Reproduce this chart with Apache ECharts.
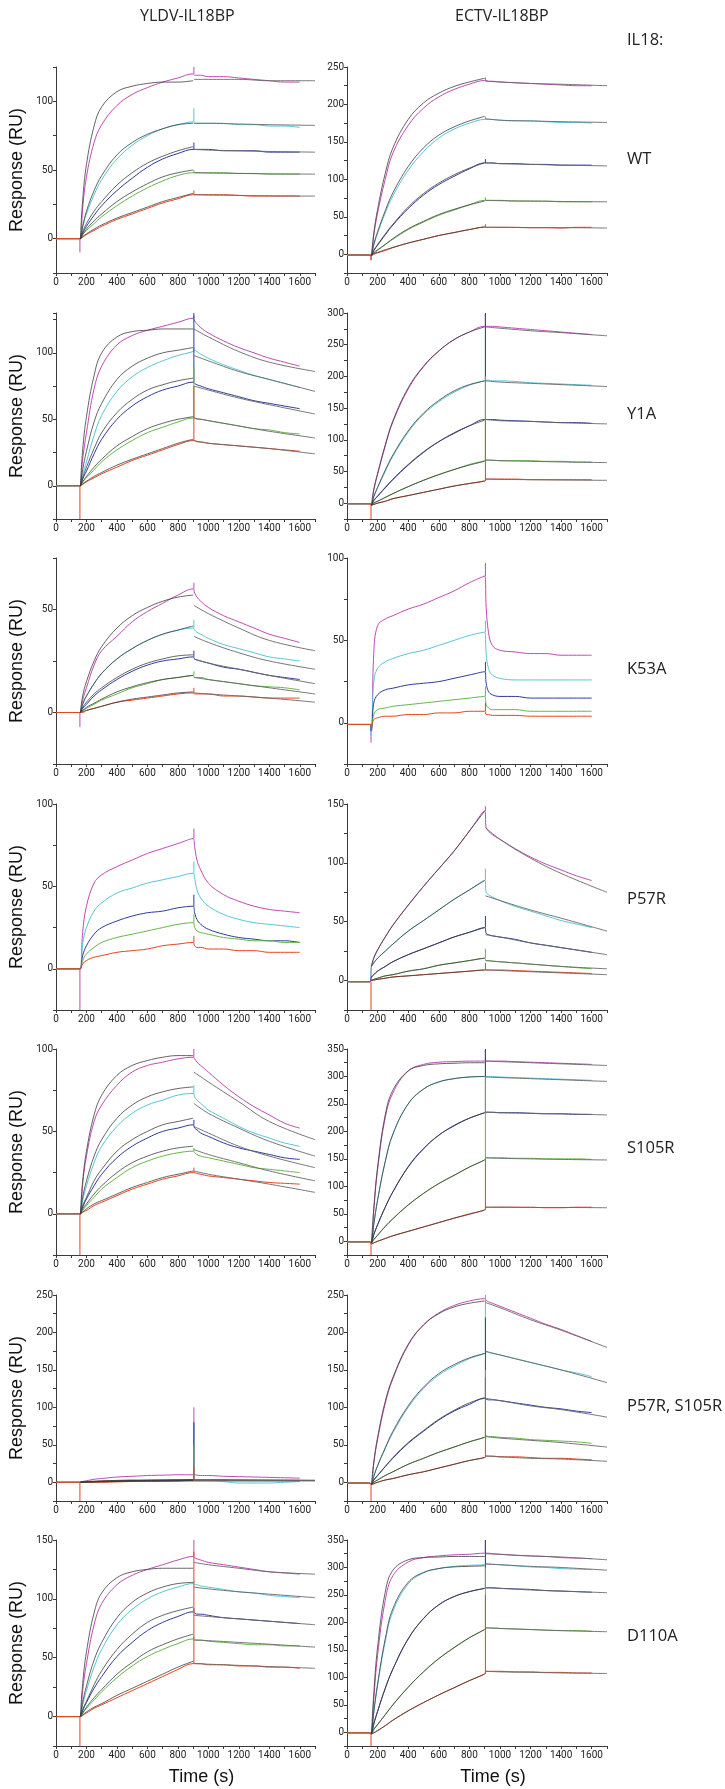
<!DOCTYPE html>
<html><head><meta charset="utf-8">
<script src="https://cdn.jsdelivr.net/npm/echarts@6/dist/echarts.min.js"></script>
<style>html,body{margin:0;padding:0;background:#fff}#c{width:725px;height:1789px}</style>
</head><body><div id="c"></div>
<script>
// ---- time grids (s) ----
const tAssoc = [160,175,200,250,300,400,500,600,700,800,900];
const tDiss = [910,925,950,1000,1100,1200,1300,1400,1500,1600];
const tFitDiss = [905,1000,1200,1400,1700];
const tSpike = 905;
const tDip = 157;
const xTickLabels = [0,200,400,600,800,1000,1200,1400,1600];
const colTitles = ['YLDV-IL18BP','ECTV-IL18BP'];
const rowLabels = ['WT','Y1A','K53A','P57R','S105R','P57R, S105R','D110A'];
const curveColors = ['#c04ab4','#55c6d8','#2c3b9c','#66b548','#e4441e'];
const fitColor = '#3c3c3c';

// ---- YLDV WT ----
const Y_WT_range=[-25,125];
const Y_WT_a=[[0,22,45,70,83,97,105,110,114,117,120],[0,8,18,32,43,58,68,75,80,83,85],[0,4,9,17,24,35,44,52,58,62,65],[0,3,6,11,16,24,31,37,42,46,48],[0,1,3,6,9,14,18,22,26,29,32]];
const Y_WT_d=[[119,119,119,118,118,117,116,115,114,114],[84,84,84,84,84,83,83,82,82,81],[65,65,65,65,64,64,64,63,63,63],[48,48,48,48,48,47.5,47.5,47,47,47],[32,32,32,32,32,31.5,31,31,31,31]];
const Y_WT_spike=[125,95,70,50,35];
const Y_WT_dip=[-10,0,0,0,0];
const Y_WT_fa=[[0,28,54,82,96,107,111,113,114,114,115],[0,9,20,35,46,61,70,76,80,83,84],[0,5,11,20,27,39,48,55,60,64,67],[0,3,7,13,18,27,34,40,45,48,50],[0,1.5,3.5,7,10,15,19,23,27,30,33]];
const Y_WT_fd=[[116,116,116,115,115],[84,84,83.5,83,82.5],[65,64.5,64,63.5,63],[48,47.8,47.5,47.2,47],[32,31.8,31.5,31.2,31]];

// ---- ECTV WT ----
const E_WT_range=[-25,250];
const E_WT_a=[[-2,25,55,100,135,172,195,210,220,227,232],[-2,12,28,55,78,112,137,155,167,175,180],[-2,5,12,26,39,61,79,93,104,114,122],[-2,1,5,13,20,33,43,52,59,66,72],[-1,0,2,5,9,15,20,25,29,33,36]];
const E_WT_d=[[232,231,231,230,229,228,227,226,225,225],[180,180,180,179,178,178,177,176,176,175],[122,122,122,121,121,120,120,119,119,119],[72,72,72,72,71,71,71,70,70,70],[36,36,36,36,36,35.5,35.5,35,36,36]];
const E_WT_spike=[236,184,127,76,40];
const E_WT_dip=[-8,0,0,0,-8];
const E_WT_fa=[[-2,28,60,108,142,180,202,215,224,230,235],[-2,13,30,58,82,117,142,159,170,178,184],[-2,5,13,27,40,63,81,95,106,115,122],[-2,2,6,13,21,34,44,53,60,66,71],[-1,1,2.5,6,9,15,20,25,29,33,37]];
const E_WT_fd=[[231,230,228,227,225],[181,179,178,177,176],[122,121,120,119,118],[72,71.5,71,70.5,70],[36,36,35.5,35.5,35]];

// ---- YLDV Y1A ----
const Y_Y1A_range=[-25,130];
const Y_Y1A_a=[[0,20,40,73,90,106,113,117,120,123,126],[0,8,18,38,53,71,82,89,94,98,101],[0,5,11,24,35,50,60,67,72,75,78],[0,3,6,12,18,27,34,40,44,48,51],[0,1,3,6,9,14,19,23,27,31,34]];
const Y_Y1A_d=[[124,122,119,115,109,104,100,96,93,90],[102,101,99,96,91,87,83,80,77,74],[77,76,75,73,70,67,64,62,60,58],[51,50,50,49,47,45,43,42,40,39],[34,33,33,32,31,30,29,28,27,26]];
const Y_Y1A_spike=[128,104,130,90,75];
const Y_Y1A_dip=[0,0,0,0,-25];
const Y_Y1A_fa=[[0,27,52,83,100,112,116,117,118,118,118],[0,12,26,48,62,80,90,96,100,102,104],[0,6,14,28,40,55,65,72,76,79,81],[0,3,7,14,20,30,37,43,47,50,52],[0,1.5,3.5,7,10,15.5,20,24,28,32,35]];
const Y_Y1A_fd=[[118,112,101,93,86],[98,94,86,80,71],[75,72,66,61,54],[51,49,45,41,36],[34,32,30,28,24]];

// ---- ECTV Y1A ----
const E_Y1A_range=[-25,300];
const E_Y1A_a=[[-3,20,45,90,128,180,215,240,258,270,279],[-3,10,24,50,74,112,140,160,175,186,193],[-3,4,11,24,37,60,80,97,110,122,132],[-3,0,3,9,15,26,36,45,53,61,67],[-3,-2,0,3,7,12,17,22,27,31,35]];
const E_Y1A_d=[[279,279,279,278,276,274,272,270,268,266],[194,194,193,193,192,190,189,188,187,186],[132,132,132,131,130,129,128,127,127,126],[68,68,68,67,67,67,66,66,65,65],[38,38,38,38,38,37,37,37,37,37]];
const E_Y1A_spike=[300,300,300,200,130];
const E_Y1A_dip=[0,0,0,0,-25];
const E_Y1A_fa=[[-3,22,47,92,130,182,216,240,258,270,278],[-3,10,25,52,76,114,142,162,177,187,193],[-3,4,11,25,38,61,81,97,111,122,131],[-3,0,3,9,15,26,36,45,53,60,66],[-3,-2,0,3,7,12,17,22,27,31,35]];
const E_Y1A_fd=[[278,276,272,269,264],[193,191,189,187,184],[132,130,129,127,125],[68,67,66,65,64],[38,37.5,37,36.5,36]];

// ---- YLDV K53A ----
const Y_K53A_range=[-25,75];
const Y_K53A_a=[[0,6,12,23,30,37,44,49,53,57,60],[0,4,8,14,19,26,31,35,38,40,41],[0,2,4,8,11,16,20,23,25,26,27],[0,1,2,4,6,9,12,14,16,17,18],[0,0,1,2,3,5,6,7,8,9,9.5]];
const Y_K53A_d=[[58,56,54,51,47,44,41,38,36,34],[40,39,38,36,33,31,29,27,26,25],[26,25.5,25,24,22,21,19.5,18,17,16],[17,17,17,16,15,14,13,12.5,12,11],[9,9,9,9,8,8,7.5,7,7,7]];
const Y_K53A_spike=[63,45,30,20,12];
const Y_K53A_dip=[-7,0,0,0,0];
const Y_K53A_fa=[[0,8,15,25,32,41,47,51,54,56,57],[0,4,8,14,19,26,31,35,38,40,42],[0,2.5,5,9,12,17,21,24,26,27.5,28],[0,1,2.5,4.5,6.5,10,12.5,14.5,16,17,18],[0,0.5,1,2,3,5,6.5,7.5,8.5,9.5,10]];
const Y_K53A_fd=[[52,48,41,35,30],[37,34,29,25,21],[26,24,21,18,14],[17,16,14,12,9],[9.5,9,8,7,5]];

// ---- ECTV K53A (no fit) ----
const E_K53A_range=[-25,100];
const E_K53A_a=[[-5,42,59,63,65,69,72,76,80,85,89],[-3,25,33,37,39,42,44,47,50,53,55],[-3,12,17,20,21,23,24,25,27,29,31],[-2,5,8,9,10,11,12,13,14,15,16],[-1,2,3,4,4,5,5,6,6,7,7]];
const E_K53A_d=[[70,55,47,44,43,42,42,41,41,41],[42,33,29,27,26,26,26,26,26,26],[24,19,17,16,16,15,15,15,15,15],[11,9,8,8,8,7,7,7,7,7],[5,5,4.5,4.5,4.5,4,4,4,4,4]];
const E_K53A_spike=[97,62,37,22,12];
const E_K53A_dip=[-12,-8,-5,-3,-2];

// ---- YLDV P57R (no fit) ----
const Y_P57R_range=[-25,100];
const Y_P57R_a=[[0,22,38,52,57,62,66,70,73,76,79],[0,15,25,35,40,46,49,52,54,56,58],[0,8,14,21,25,29,32,34,35,37,38],[0,5,9,13,16,19,21,23,25,27,28],[0,3,5,7,8,10,11,12,14,15,16]];
const Y_P57R_d=[[74,66,60,52,45,41,38,36,35,34],[55,48,43,38,33,30,28,27,26,25],[34,30,27,24,21,19,18,17,17,16],[25,23,22,21,19,18,17,17,16,16],[14,13,13,12,12,11,11,10,10,10]];
const Y_P57R_spike=[85,65,45,33,20];
const Y_P57R_dip=[-25,0,0,0,0];

// ---- ECTV P57R ----
const E_P57R_range=[-25,150];
const E_P57R_a=[[12,19,26,37,47,64,80,95,110,127,144],[12,15,19,25,31,42,51,60,69,77,85],[3,5,8,12,16,22,27,32,37,41,45],[0,1,2,4,5,8,10,13,15,17,19],[0,0.5,1,2,3,4,5,6,7,8,9]];
const E_P57R_d=[[130,127,124,120,112,105,99,94,89,85],[75,73,71,68,63,59,55,51,48,45],[40,39,38,37,35,32,30,28,26,24],[17,17,16.5,16,15,14,13,12,11,10],[9,9,9,9,8.5,8,7.5,7,6.5,6]];
const E_P57R_spike=[148,95,55,27,15];
const E_P57R_dip=[0,0,0,0,-25];
const E_P57R_fa=[[12,19,26,37,47,64,80,95,110,127,144],[12,15,19,25,31,42,51,60,69,77,85],[3,5,8,12,16,22,27,32,37,41,45],[0,1,2,4,5,8,10,13,15,17,19],[0,0.5,1,2,3,4,5,6,7,8,9]];
const E_P57R_fd=[[130,120,104,91,75],[72,68,60,53,42],[39,37,32,28,22],[17,16,14,12,10],[9,8.5,7.5,6.5,5]];

// ---- YLDV S105R ----
const Y_S105R_range=[-25,100];
const Y_S105R_a=[[0,18,35,56,66,78,86,90,92,94,95],[0,8,17,31,41,53,61,66,69,72,73],[0,4,9,17,24,34,41,46,50,52,54],[0,2,5,10,15,22,28,32,35,37,38],[0,1,2,5,7,11,15,18,21,23,25]];
const Y_S105R_d=[[94,92,90,86,78,71,65,60,55,52],[71,69,67,63,58,53,49,46,43,41],[52,51,49,47,43,40,38,36,34,33],[37,36,35,34,32,30,28,27,26,25],[25,24.5,24,23,22,21,20,19,18.5,18]];
const Y_S105R_spike=[100,78,57,40,28];
const Y_S105R_dip=[0,0,0,0,-25];
const Y_S105R_fa=[[0,20,38,60,72,84,90,93,95,96,96],[0,10,20,35,45,58,66,71,74,76,77],[0,5,10,20,27,38,45,50,54,56,58],[0,3,6,12,17,25,31,35,38,40,41],[0,1,3,6,8,12,16,19,22,24,26]];
const Y_S105R_fd=[[86,80,68,56,45],[67,61,52,44,35],[53,49,41,35,28],[39,36,31,26,20],[26,24,21,18,13]];

// ---- ECTV S105R ----
const E_S105R_range=[-25,350];
const E_S105R_a=[[-3,55,130,225,270,310,322,326,327,328,328],[-3,30,75,145,195,250,277,290,296,299,300],[-3,12,30,62,90,135,168,193,210,224,234],[-3,3,11,27,41,66,87,105,120,135,148],[-5,-3,0,5,10,18,26,34,42,50,57]];
const E_S105R_d=[[328,328,328,328,327,326,325,324,323,322],[300,300,300,299,298,297,296,295,294,293],[235,235,235,234,234,233,232,232,231,231],[152,152,152,152,151,151,150,150,150,149],[62,62,62,62,62,62,61,61,62,62]];
const E_S105R_spike=[350,350,350,300,150];
const E_S105R_dip=[0,0,0,0,-25];
const E_S105R_fa=[[-3,60,135,230,275,310,320,323,324,325,325],[-3,30,75,145,195,250,277,290,296,299,300],[-3,12,30,62,90,136,169,193,211,224,234],[-3,3,11,27,41,66,87,105,120,135,148],[-5,-3,0,5,10,18,26,34,42,49,57]];
const E_S105R_fd=[[328,327,325,323,320],[299,298,296,294,291],[235,234,233,232,230],[152,151,150,149,148],[62,62,61.5,61.5,61]];

// ---- YLDV P57R,S105R ----
const Y_DBL_range=[-25,250];
const Y_DBL_a=[[0,1,2,4,5,7,8,9,9.5,10,10],[0,0,1,1,1,1.5,2,2,2,2,2],[0,0,0,1,1,1,1.5,2,2,2,3],[0,0,0,0,0.5,1,1,1.5,2,2,2],[0,0,0,0,0,0.5,1,1,1,1.5,2]];
const Y_DBL_d=[[10,9.5,9,9,8,7.5,7,6.5,6,5.5],[2,2,2,2,1,-1,-1,-1,0,1],[3,3,3,3,3,2.5,2.5,2.5,2.5,2.5],[2,2,2,2,2,2,2,2,2,2],[2,2,2,2,2,2,2,2,2,2]];
const Y_DBL_spike=[100,80,80,50,20];
const Y_DBL_dip=[0,0,0,0,-25];
const Y_DBL_fa=[[0,0.5,1,1.5,2,2.5,3,3,3.2,3.3,3.5],[0,0.3,0.6,1,1.3,1.8,2.2,2.5,2.7,2.9,3],[0,0.3,0.6,1,1.3,1.8,2.2,2.5,2.7,2.9,3],[0,0.2,0.4,0.7,1,1.4,1.8,2.1,2.3,2.5,2.6],[0,0.1,0.3,0.5,0.8,1.2,1.5,1.8,2,2.2,2.3]];
const Y_DBL_fd=[[3.5,3.4,3.2,3,2.7],[3,2.9,2.8,2.6,2.4],[3,2.9,2.8,2.6,2.4],[2.6,2.5,2.4,2.3,2.1],[2.3,2.2,2.1,2,1.9]];

// ---- ECTV P57R,S105R ----
const E_DBL_range=[-25,250];
const E_DBL_a=[[-3,25,57,105,138,183,210,226,236,242,245],[-3,8,22,45,66,100,125,143,155,165,172],[-3,3,9,21,32,52,68,83,95,104,112],[-3,0,3,9,14,24,32,40,47,54,60],[-3,-2,0,3,5,10,14,19,24,29,33]];
const E_DBL_d=[[243,241,239,235,227,219,211,204,196,188],[174,173,172,170,165,160,155,150,146,141],[111,110,110,109,106,103,100,98,95,93],[62,61,61,60,59,57,56,55,54,52],[35,35,35,34,34,33,32,32,31,30]];
const E_DBL_spike=[250,250,220,150,140];
const E_DBL_dip=[0,0,0,0,-25];
const E_DBL_fa=[[-3,27,60,108,140,184,210,225,234,239,242],[-3,8,22,46,68,102,127,145,157,166,172],[-3,3,9,21,33,53,69,84,96,106,113],[-3,0,3,9,14,24,32,40,47,54,60],[-3,-2,0,3,5,10,14,19,24,29,33]];
const E_DBL_fd=[[240,233,217,203,180],[175,170,160,150,133],[112,109,102,97,87],[61,59,56,53,47],[35,34,32,31,28]];

// ---- YLDV D110A ----
const Y_D110A_range=[-25,150];
const Y_D110A_a=[[0,22,45,78,96,112,120,125,129,133,136],[0,10,22,42,57,78,91,100,106,110,113],[0,5,12,24,34,51,63,73,80,85,89],[0,3,7,14,21,33,43,51,57,62,66],[0,1,3,7,10,16,22,28,34,40,45]];
const Y_D110A_d=[[135,134,133,131,129,127,125,123,122,121],[112,112,111,110,108,106,105,103,102,101],[88,87,87,86,84,83,82,81,80,79],[65,65,65,64,63,62,61,61,60,60],[45,45,45,44,44,43,43,42,42,41]];
const Y_D110A_spike=[150,115,92,68,140];
const Y_D110A_dip=[0,0,0,0,-25];
const Y_D110A_fa=[[0,28,55,88,105,118,123,125,126,126,126],[0,12,26,48,63,84,97,105,110,113,114],[0,6,13,27,39,57,70,80,86,90,93],[0,3,8,16,23,36,46,55,61,66,70],[0,1.5,4,8,11,18,24,30,36,42,47]];
const Y_D110A_fd=[[131,129,126,123,121],[110,108.5,106,104,101],[86,85,83,81,78],[65,64.5,63,61.5,59],[45,44.5,43.5,42.5,41]];

// ---- ECTV D110A ----
const E_D110A_range=[-25,350];
const E_D110A_a=[[-3,60,140,240,285,310,318,321,323,324,326],[-3,35,85,165,220,270,290,298,302,304,305],[-3,15,38,80,115,170,207,232,247,256,262],[-3,5,14,32,50,82,110,134,154,172,187],[-3,-1,3,12,22,39,54,68,81,94,106]];
const E_D110A_d=[[326,326,325,324,322,321,320,318,317,316],[307,307,306,305,303,301,300,298,297,296],[263,263,263,262,261,260,258,257,256,255],[190,190,190,189,188,187,186,185,185,184],[111,111,111,111,110,110,109,109,108,108]];
const E_D110A_spike=[350,350,350,300,250];
const E_D110A_dip=[0,0,0,0,-25];
const E_D110A_fa=[[-3,70,155,255,295,314,318,319,320,320,320],[-3,37,88,170,225,273,291,298,301,302,303],[-3,15,38,80,115,170,207,232,247,256,262],[-3,5,14,32,50,82,110,134,154,172,187],[-3,-1,3,12,22,39,54,68,81,94,106]];
const E_D110A_fd=[[325,324,321,319,314],[306,305,302,300,295],[263,262,259,257,254],[190,189,187,185,183],[111,110,109,108,107]];

// ---- panel table ----
const panels = [
  {row:0,col:0,range:Y_WT_range,a:Y_WT_a,d:Y_WT_d,spike:Y_WT_spike,dip:Y_WT_dip,fa:Y_WT_fa,fd:Y_WT_fd},
  {row:0,col:1,range:E_WT_range,a:E_WT_a,d:E_WT_d,spike:E_WT_spike,dip:E_WT_dip,fa:E_WT_fa,fd:E_WT_fd},
  {row:1,col:0,range:Y_Y1A_range,a:Y_Y1A_a,d:Y_Y1A_d,spike:Y_Y1A_spike,dip:Y_Y1A_dip,fa:Y_Y1A_fa,fd:Y_Y1A_fd},
  {row:1,col:1,range:E_Y1A_range,a:E_Y1A_a,d:E_Y1A_d,spike:E_Y1A_spike,dip:E_Y1A_dip,fa:E_Y1A_fa,fd:E_Y1A_fd},
  {row:2,col:0,range:Y_K53A_range,a:Y_K53A_a,d:Y_K53A_d,spike:Y_K53A_spike,dip:Y_K53A_dip,fa:Y_K53A_fa,fd:Y_K53A_fd},
  {row:2,col:1,range:E_K53A_range,a:E_K53A_a,d:E_K53A_d,spike:E_K53A_spike,dip:E_K53A_dip,fa:null,fd:null},
  {row:3,col:0,range:Y_P57R_range,a:Y_P57R_a,d:Y_P57R_d,spike:Y_P57R_spike,dip:Y_P57R_dip,fa:null,fd:null},
  {row:3,col:1,range:E_P57R_range,a:E_P57R_a,d:E_P57R_d,spike:E_P57R_spike,dip:E_P57R_dip,fa:E_P57R_fa,fd:E_P57R_fd},
  {row:4,col:0,range:Y_S105R_range,a:Y_S105R_a,d:Y_S105R_d,spike:Y_S105R_spike,dip:Y_S105R_dip,fa:Y_S105R_fa,fd:Y_S105R_fd},
  {row:4,col:1,range:E_S105R_range,a:E_S105R_a,d:E_S105R_d,spike:E_S105R_spike,dip:E_S105R_dip,fa:E_S105R_fa,fd:E_S105R_fd},
  {row:5,col:0,range:Y_DBL_range,a:Y_DBL_a,d:Y_DBL_d,spike:Y_DBL_spike,dip:Y_DBL_dip,fa:Y_DBL_fa,fd:Y_DBL_fd},
  {row:5,col:1,range:E_DBL_range,a:E_DBL_a,d:E_DBL_d,spike:E_DBL_spike,dip:E_DBL_dip,fa:E_DBL_fa,fd:E_DBL_fd},
  {row:6,col:0,range:Y_D110A_range,a:Y_D110A_a,d:Y_D110A_d,spike:Y_D110A_spike,dip:Y_D110A_dip,fa:Y_D110A_fa,fd:Y_D110A_fd},
  {row:6,col:1,range:E_D110A_range,a:E_D110A_a,d:E_D110A_d,spike:E_D110A_spike,dip:E_D110A_dip,fa:E_D110A_fa,fd:E_D110A_fd}
];

// ---- layout ----
const colLeft=[56,347], colWidth=[259,260];
const rowTop0=67, rowStep=245.5, plotH=206;
const tickFont="'Liberation Sans Narrow','Arial Narrow','Roboto',sans-serif";
const labelFont="'Liberation Sans',Arial,sans-serif";
const textFont="'Open Sans','Noto Sans',sans-serif";
const axisColor='#3a3a3a';

const grids=[], xAxes=[], yAxes=[], series=[];
panels.forEach((p,k)=>{
  grids.push({left:colLeft[p.col], top:Math.round(rowTop0+rowStep*p.row), width:colWidth[p.col], height:plotH, outerBoundsMode:'none'});
  const xa={gridIndex:k,type:'value',min:0,max:1700,interval:100,
    axisLine:{show:true,onZero:false,lineStyle:{color:axisColor,width:1}},
    axisTick:{show:true,length:3,lineStyle:{color:axisColor}},
    axisLabel:{margin:4,fontSize:10,color:'#222',fontFamily:tickFont,
      formatter:v=>xTickLabels.indexOf(v)>=0?String(v):''},
    splitLine:{show:false}};
  if(p.row===6){xa.name='Time (s)';xa.nameLocation='middle';xa.nameGap=22;
    xa.nameTextStyle={fontSize:18,color:'#111',fontFamily:labelFont,padding:[0,0,0,32]};}
  xAxes.push(xa);
  const ya={gridIndex:k,type:'value',min:p.range[0],max:p.range[1],interval:25,
    axisLine:{show:true,onZero:false,lineStyle:{color:axisColor,width:1}},
    axisTick:{show:true,length:3,lineStyle:{color:axisColor}},
    axisLabel:{margin:3,fontSize:10,color:'#222',fontFamily:tickFont,
      formatter:v=>(v>=0&&v%50===0)?String(v):''},
    splitLine:{show:false}};
  if(p.col===0){ya.name='Response (RU)';ya.nameLocation='middle';ya.nameGap=30;
    ya.nameTextStyle={fontSize:18,color:'#111',fontFamily:labelFont};}
  yAxes.push(ya);
  const base=p.col===0?0:-1;
  for(let i=0;i<5;i++){
    const pts=[[0,base],[150,base]];
    tAssoc.forEach((t,j)=>pts.push([t,p.a[i][j]]));
    tDiss.forEach((t,j)=>pts.push([t,p.d[i][j]]));
    series.push({type:'line',xAxisIndex:k,yAxisIndex:k,data:pts,symbol:'none',showSymbol:false,
      smooth:0.4,silent:true,z:2,lineStyle:{color:curveColors[i],width:1}});
    const sp=[];
    if(p.dip[i]!==0){sp.push([tDip,base],[tDip,p.dip[i]],[tDip,'-']);}
    sp.push([tSpike,p.a[i][10]],[tSpike,p.spike[i]]);
    series.push({type:'line',xAxisIndex:k,yAxisIndex:k,data:sp,symbol:'none',showSymbol:false,
      silent:true,z:2,lineStyle:{color:curveColors[i],width:1}});
  }
  if(p.fa){
    for(let i=0;i<5;i++){
      series.push({type:'line',xAxisIndex:k,yAxisIndex:k,data:tAssoc.map((t,j)=>[t,p.fa[i][j]]),
        symbol:'none',showSymbol:false,smooth:0.4,silent:true,z:3,
        lineStyle:{color:fitColor,width:0.8}});
      series.push({type:'line',xAxisIndex:k,yAxisIndex:k,data:tFitDiss.map((t,j)=>[t,p.fd[i][j]]),
        symbol:'none',showSymbol:false,smooth:0.4,silent:true,z:3,
        lineStyle:{color:'#666',width:0.9}});
    }
  }
});

const graphics=[];
const titleX=[190,505];
colTitles.forEach((t,c)=>graphics.push({type:'text',left:titleX[c]-50,top:8,
  style:{text:t,fontSize:16,fontFamily:textFont,fill:'#222'}}));
graphics.push({type:'text',left:627,top:32,style:{text:'IL18:',fontSize:16.5,fontFamily:textFont,fill:'#222'}});
const rowLabelY=[163,418,673,903,1152,1410,1640];
rowLabels.forEach((t,r)=>graphics.push({type:'text',left:627,top:rowLabelY[r]-12,
  style:{text:t,fontSize:16.5,fontFamily:textFont,fill:'#222'}}));

const chart=echarts.init(document.getElementById('c'),null,{renderer:'canvas',width:725,height:1789});
chart.setOption({animation:false,backgroundColor:'#fff',grid:grids,xAxis:xAxes,yAxis:yAxes,series:series,graphic:graphics});
</script></body></html>
